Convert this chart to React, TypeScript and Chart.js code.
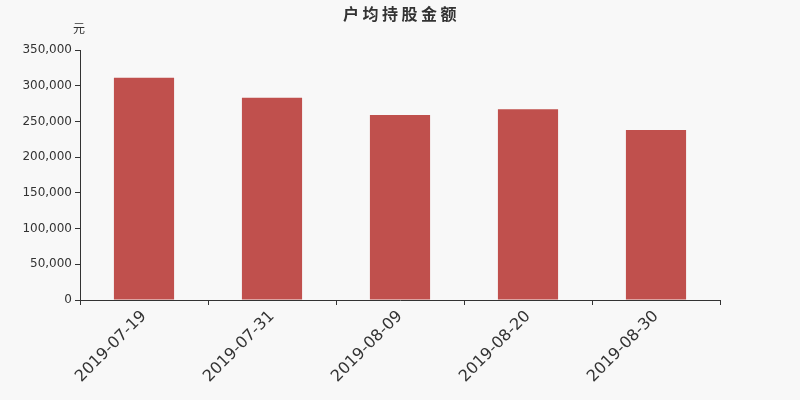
import { useEffect, useRef } from "react"
import { Chart, registerables } from "chart.js"

Chart.register(...registerables)

const categories = ["2019-07-19", "2019-07-31", "2019-08-09", "2019-08-20", "2019-08-30"]
const amounts = [311000, 283000, 259000, 267000, 238000]
const yMax = 350000
const yStep = 50000

const titleText = "户均持股金额"
const unitText = "元"

// draws the title and the unit label above the y axis
const headerPlugin = {
  id: "header",
  afterDraw(chart: Chart) {
    const ctx = chart.ctx
    ctx.save()
    ctx.fillStyle = "#333"
    ctx.textAlign = "center"
    ctx.textBaseline = "middle"
    ctx.font = "bold 16px 'Noto Sans CJK SC', sans-serif"
    ;(ctx as any).letterSpacing = "3.5px"
    ctx.fillText(titleText, 401.5, 14)
    ;(ctx as any).letterSpacing = "0px"
    ctx.font = "12px 'Noto Sans CJK SC', sans-serif"
    ctx.fillText(unitText, chart.chartArea.left - 1, 28)
    ctx.restore()
  },
}

export default function App() {
  const chartRef = useRef<HTMLCanvasElement>(null)
  const chartInstance = useRef<Chart | null>(null)

  useEffect(() => {
    document.body.style.margin = "0"
    if (chartRef.current) {
      const ctx = chartRef.current.getContext("2d")
      if (ctx) {
        if (chartInstance.current) {
          chartInstance.current.destroy()
        }

        chartInstance.current = new Chart(ctx, {
          type: "bar",
          data: {
            labels: categories,
            datasets: [
              {
                label: titleText,
                data: amounts,
                backgroundColor: "#c0504d",
                barPercentage: 0.47,
                categoryPercentage: 1,
              },
            ],
          },
          options: {
            animation: false,
            responsive: true,
            maintainAspectRatio: false,
            layout: {
              padding: { top: 50, left: 0, right: 80, bottom: 0 },
            },
            plugins: {
              legend: { display: false },
              title: { display: false },
              tooltip: { enabled: false },
            },
            scales: {
              x: {
                afterFit: (scale: any) => {
                  scale.height = 100
                },
                border: { display: true, color: "#333", width: 1 },
                grid: {
                  display: true,
                  drawOnChartArea: false,
                  drawTicks: true,
                  tickLength: 5,
                  color: "#333",
                },
                ticks: {
                  maxRotation: 45,
                  minRotation: 45,
                  color: "#333",
                  padding: 2,
                  font: { size: 16, family: "'DejaVu Sans', sans-serif" },
                },
              },
              y: {
                min: 0,
                max: yMax,
                afterFit: (scale: any) => {
                  scale.width = 80
                },
                border: { display: true, color: "#333", width: 1 },
                grid: {
                  display: true,
                  drawOnChartArea: false,
                  drawTicks: true,
                  tickLength: 5,
                  color: "#333",
                },
                ticks: {
                  stepSize: yStep,
                  color: "#333",
                  padding: 3,
                  font: { size: 12, family: "'DejaVu Sans', sans-serif" },
                  callback: (v: any) => Number(v).toLocaleString("en-US"),
                },
              },
            },
          },
          plugins: [headerPlugin],
        })
      }
    }

    return () => {
      if (chartInstance.current) {
        chartInstance.current.destroy()
        chartInstance.current = null
      }
    }
  }, [])

  return (
    <div style={{ width: 800, height: 400, background: "#f8f8f8", position: "relative" }}>
      <canvas ref={chartRef} />
    </div>
  )
}
